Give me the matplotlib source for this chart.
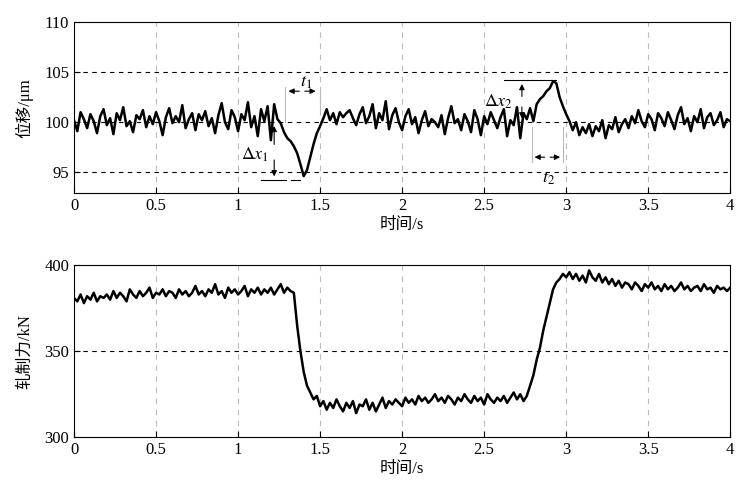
import numpy as np
import matplotlib.pyplot as plt

plt.rcParams["font.family"] = ["Liberation Serif", "Noto Sans CJK SC"]
plt.rcParams["font.size"] = 12
plt.rcParams["mathtext.fontset"] = "stix"

# ---- data (sampled every 0.02 s) ----
t = np.arange(201) * 0.02

disp = [
    100.2, 99.1, 101.0, 100.3, 99.4, 100.8, 100.1, 98.9, 100.6, 101.3,
    99.7, 100.4, 98.8, 100.9, 100.2, 101.5, 99.6, 100.1, 99.0, 100.7,
    100.3, 101.2, 99.5, 100.6, 99.8, 101.0, 100.1, 98.7, 100.5, 101.4,
    99.9, 100.6, 100.0, 101.7, 99.4, 100.3, 100.9, 99.2, 100.8, 100.2,
    101.1, 99.6, 100.4, 98.9, 100.7, 101.9, 100.0, 99.3, 101.2, 100.5,
    99.1, 100.8, 100.2, 102.0, 99.5, 100.6, 98.6, 101.3, 100.1, 101.6,
    98.2, 101.8, 100.3, 99.9, 99.0, 98.4, 98.1, 97.6, 96.9, 95.8,
    94.6, 95.2, 96.5, 97.8, 98.9, 99.6, 100.4, 101.3, 100.2, 100.9,
    99.8, 101.0, 100.5, 100.9, 101.2, 100.4, 99.7, 100.8, 101.5, 99.9,
    100.6, 101.8, 99.4, 100.9, 100.2, 102.1, 99.3, 100.7, 101.4, 100.0,
    99.2, 100.6, 101.3, 99.8, 100.5, 98.9, 100.2, 101.1, 99.6, 100.3,
    100.0, 99.5, 100.7, 98.8, 100.4, 101.6, 99.9, 100.3, 99.2, 100.8,
    100.1, 99.0, 101.2, 100.3, 98.7, 100.6, 99.8, 101.0, 100.2, 99.4,
    100.5, 101.3, 98.6, 100.2, 99.7, 101.5, 98.4, 100.9, 100.3, 101.4,
    100.1, 101.8, 102.3, 102.6, 103.1, 103.4, 104.1, 103.9, 102.5, 101.6,
    100.8, 100.1, 99.2, 100.0, 98.7, 99.5, 98.9, 99.8, 98.6, 99.6,
    99.1, 100.2, 98.4, 99.7, 99.3, 100.5, 99.0, 99.8, 100.3, 99.4,
    100.6, 99.9, 101.2, 100.1, 99.5, 100.8, 100.3, 99.2, 100.9, 100.4,
    99.6, 101.0, 100.2, 99.3, 100.7, 101.5, 99.8, 100.4, 99.1, 100.6,
    100.0, 101.3, 99.4, 100.5, 100.9, 99.7, 100.2, 101.0, 99.5, 100.3,
    100.1,
]

force = [
    381, 379, 383, 378, 382, 380, 384, 379, 382, 381,
    383, 380, 385, 381, 384, 382, 379, 386, 383, 381,
    385, 382, 384, 387, 381, 384, 383, 386, 382, 385,
    384, 381, 386, 383, 385, 382, 384, 388, 383, 385,
    382, 386, 384, 389, 383, 385, 381, 387, 384, 386,
    383, 385, 388, 382, 386, 384, 387, 383, 386, 384,
    387, 383, 386, 389, 384, 387, 385, 384, 365, 350,
    338, 330, 326, 322, 324, 318, 321, 316, 320, 317,
    322, 318, 315, 320, 317, 321, 314, 319, 318, 322,
    316, 320, 315, 319, 323, 317, 321, 319, 322, 320,
    318, 323, 320, 322, 319, 324, 321, 323, 320, 322,
    325, 321, 323, 320, 324, 322, 319, 323, 321, 325,
    322, 320, 324, 321, 323, 319, 325, 322, 320, 323,
    321, 324, 320, 323, 326, 322, 325, 321, 324, 330,
    336, 345, 352, 362, 370, 378, 386, 390, 392, 395,
    393, 396, 392, 395, 391, 394, 390, 397, 393, 391,
    395, 390, 393, 389, 392, 388, 391, 387, 390, 389,
    386, 390, 388, 385, 389, 387, 390, 386, 388, 385,
    389, 386, 388, 385, 387, 390, 386, 388, 385, 387,
    388, 385, 389, 386, 387, 384, 388, 386, 387, 385,
    387,
]

x_ticks = [0, 0.5, 1, 1.5, 2, 2.5, 3, 3.5, 4]
x_labels = ["0", "0.5", "1", "1.5", "2", "2.5", "3", "3.5", "4"]

fig = plt.figure(figsize=(7.44, 4.94), dpi=100)
ax1 = fig.add_axes([0.0995, 0.609, 0.882, 0.346])
ax2 = fig.add_axes([0.0995, 0.115, 0.882, 0.348])


def style(ax):
    ax.set_xlim(0, 4)
    ax.set_xticks(x_ticks)
    ax.set_xticklabels(x_labels)
    for xv in x_ticks[1:-1]:
        ax.axvline(xv, color="#bbbbbb", linestyle=(0, (5, 5)), linewidth=0.8, zorder=0)
    ax.tick_params(direction="in", length=4, labelsize=12)
    ax.set_xlabel("时间/s", fontsize=12, labelpad=2)


# ---- top: displacement ----
ax1.plot(t, disp, color="black", linewidth=1.8)
ax1.set_ylim(92.9, 110)
ax1.set_yticks([95, 100, 105, 110])
for yv in [95, 100, 105]:
    ax1.axhline(yv, color="black", linestyle=(0, (4, 4)), linewidth=0.8)
style(ax1)
ax1.set_ylabel("位移/μm", fontsize=12, labelpad=8)

# annotations
ap = dict(arrowstyle="-|>", color="black", lw=0.8, mutation_scale=8)
ax1.annotate("", xy=(1.22, 94.3), xytext=(1.22, 96.5), arrowprops=ap)
ax1.annotate("", xy=(1.22, 99.9), xytext=(1.22, 97.5), arrowprops=ap)
ax1.plot([1.14, 1.29], [94.2, 94.2], color="black", lw=0.8)
ax1.plot([1.32, 1.38], [94.2, 94.2], color="black", lw=0.8)
ax1.text(1.02, 96.3, r"$\Delta x_1$", fontsize=13)
ax1.plot([1.285, 1.285], [100, 103.5], color="#bbbbbb", lw=0.8)
ax1.plot([1.5, 1.5], [101, 103.5], color="#bbbbbb", lw=0.8)
ax1.annotate("", xy=(1.29, 103.1), xytext=(1.39, 103.1), arrowprops=ap)
ax1.annotate("", xy=(1.49, 103.1), xytext=(1.39, 103.1), arrowprops=ap)
ax1.text(1.38, 103.6, r"$t_1$", fontsize=13)
ax1.plot([2.62, 2.94], [104.2, 104.2], color="black", lw=0.8)
ax1.annotate("", xy=(2.73, 104.1), xytext=(2.73, 102.3), arrowprops=ap)
ax1.annotate("", xy=(2.73, 100.1), xytext=(2.73, 101.8), arrowprops=ap)
ax1.text(2.5, 101.6, r"$\Delta x_2$", fontsize=13)
ax1.plot([2.79, 2.79], [96, 99.5], color="#bbbbbb", lw=0.8)
ax1.plot([2.98, 2.98], [96, 99.5], color="#bbbbbb", lw=0.8)
ax1.annotate("", xy=(2.79, 96.5), xytext=(2.885, 96.5), arrowprops=ap)
ax1.annotate("", xy=(2.98, 96.5), xytext=(2.885, 96.5), arrowprops=ap)
ax1.text(2.85, 94.0, r"$t_2$", fontsize=13)

# ---- bottom: rolling force ----
ax2.plot(t, force, color="black", linewidth=1.8)
ax2.set_ylim(300, 400)
ax2.set_yticks([300, 350, 400])
ax2.axhline(350, color="black", linestyle=(0, (4, 4)), linewidth=0.8)
style(ax2)
ax2.set_ylabel("轧制力/kN", fontsize=12, labelpad=8)

fig.savefig("out.png", dpi=100)
